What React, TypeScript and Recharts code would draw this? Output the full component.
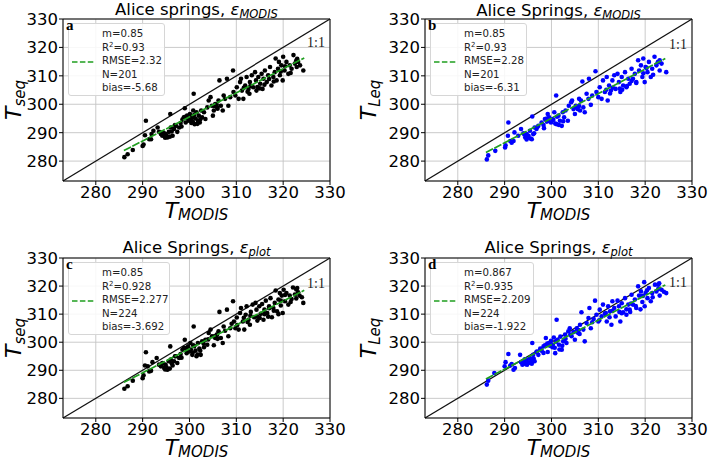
import React from "react";
import { ScatterChart, Scatter, XAxis, YAxis, CartesianGrid, ReferenceLine } from "recharts";

const SANS = "'DejaVu Sans', sans-serif";
const SERIF = "'Liberation Serif', 'DejaVu Serif', serif";

const TICKS = [280, 290, 300, 310, 320, 330];
const DOMAIN: [number, number] = [273, 330];
const FIT_COLOR = "#1f9e1f";

// (T_MODIS, T_seq) — panel a
const pointsA: [number, number][] = [
  [286.1, 281.4], [286.8, 282.4], [287.9, 283.9], [290.0, 285.3], [290.2, 285.8], [290.7, 294.2], [290.5, 289.1],
  [291.4, 287.7], [291.9, 289.5], [291.8, 287.7], [292.3, 290.7], [293.2, 291.8], [293.5, 290.3], [293.9, 289.5],
  [294.2, 288.9], [294.6, 289.8], [294.9, 289.5], [295.3, 288.3], [295.6, 290.3], [295.9, 296.6], [296.0, 291.8],
  [296.4, 288.9], [296.7, 291.3], [297.1, 292.4], [297.4, 290.3], [297.8, 291.8], [298.1, 293.4], [298.5, 294.6],
  [298.8, 295.4], [299.0, 298.6], [299.2, 293.6], [299.5, 296.0], [299.9, 294.2], [300.1, 296.6], [300.4, 293.4],
  [300.6, 295.4], [300.8, 297.8], [300.9, 303.7], [301.1, 293.0], [301.3, 295.0], [301.5, 297.2], [301.8, 294.2],
  [302.0, 296.0], [302.2, 293.6], [302.5, 297.8], [302.7, 295.4], [303.1, 297.2], [303.4, 294.8], [303.8, 298.9],
  [304.1, 301.3], [304.5, 302.5], [304.8, 299.5], [305.0, 296.0], [305.2, 297.8], [305.5, 300.1], [305.9, 298.9],
  [306.2, 301.3], [306.4, 308.4], [306.7, 299.5], [307.1, 297.8], [307.3, 303.1], [307.6, 301.9], [308.0, 309.0],
  [308.3, 299.5], [308.7, 302.5], [309.3, 311.9], [309.4, 304.3], [309.8, 303.1], [310.1, 306.0], [310.5, 301.9],
  [310.8, 307.8], [311.0, 309.0], [311.2, 304.8], [311.5, 301.9], [311.9, 306.6], [312.2, 309.6], [312.6, 305.4],
  [312.8, 303.7], [312.9, 307.8], [313.3, 310.2], [313.6, 306.0], [314.0, 311.3], [314.2, 308.4], [314.3, 304.8],
  [314.7, 309.6], [315.1, 307.2], [315.4, 310.7], [315.6, 305.4], [315.8, 309.0], [316.1, 311.9], [316.5, 307.8],
  [316.8, 310.2], [317.2, 313.1], [317.5, 306.6], [317.9, 309.6], [318.2, 311.3], [318.4, 316.1], [318.6, 308.4],
  [318.9, 312.5], [319.1, 314.9], [319.3, 310.2], [319.6, 313.7], [319.9, 308.4], [320.0, 316.7], [320.3, 311.9],
  [320.7, 314.9], [321.1, 310.7], [321.4, 313.7], [321.8, 312.5], [322.2, 317.3], [322.5, 314.3], [322.9, 313.1],
  [323.2, 314.9], [323.6, 313.7], [324.3, 311.9], [294.3, 290.1], [295.1, 289.0], [295.8, 288.6], [294.8, 288.2],
  [296.2, 290.4], [299.6, 294.9], [300.3, 295.1], [301.0, 296.2], [301.7, 293.1], [302.3, 294.6], [300.7, 294.0],
  [299.1, 295.6], [305.3, 299.4], [305.8, 299.9], [306.0, 298.4], [313.0, 306.4], [314.5, 306.1], [315.0, 305.6],
  [316.0, 306.9], [317.0, 308.9], [318.0, 308.0], [319.5, 311.5], [320.4, 313.4], [321.6, 311.0], [322.8, 315.4],
  [323.0, 316.0], [311.6, 305.8], [312.4, 304.4], [296.9, 292.7], [298.3, 292.2],
];

// (T_MODIS, T_Leq) — panel b
const pointsB: [number, number][] = [
  [286.2, 280.6], [286.5, 282.0], [288.0, 283.6], [290.1, 284.8], [290.2, 285.6], [290.8, 293.6], [290.7, 288.9],
  [291.2, 287.1], [291.5, 286.5], [291.9, 287.1], [292.1, 290.1], [292.9, 288.9], [293.5, 291.3], [294.0, 289.8],
  [294.4, 288.3], [294.7, 289.5], [295.1, 288.9], [295.4, 290.7], [295.8, 287.7], [295.9, 295.7], [296.1, 289.5],
  [296.4, 291.8], [296.8, 291.3], [297.2, 292.4], [297.9, 293.6], [298.3, 292.7], [298.6, 294.8], [299.0, 293.9],
  [299.2, 296.6], [299.5, 295.4], [299.9, 293.6], [300.2, 294.8], [300.6, 297.2], [301.0, 303.1], [301.1, 293.0],
  [301.5, 296.0], [301.8, 294.2], [302.2, 292.4], [302.4, 297.2], [302.7, 295.4], [303.0, 297.8], [303.5, 294.2],
  [303.7, 299.5], [304.2, 300.7], [304.4, 301.3], [304.7, 298.3], [305.0, 296.6], [305.2, 299.5], [305.6, 298.3],
  [305.9, 301.9], [306.3, 301.3], [306.6, 308.0], [306.8, 298.9], [307.1, 297.2], [307.5, 303.7], [307.9, 301.9],
  [308.0, 309.0], [308.4, 299.8], [308.7, 303.1], [309.4, 311.6], [309.6, 304.3], [310.0, 302.5], [310.3, 306.0],
  [310.7, 301.9], [311.0, 308.4], [311.4, 304.3], [311.8, 309.6], [312.0, 301.3], [312.3, 306.6], [312.7, 304.8],
  [313.0, 308.4], [313.4, 310.2], [313.7, 305.4], [314.1, 310.7], [314.4, 307.8], [314.7, 304.3], [315.0, 309.6],
  [315.3, 306.6], [315.7, 311.3], [316.0, 306.0], [316.4, 309.0], [316.7, 307.2], [317.1, 312.5], [317.4, 309.0],
  [317.8, 310.7], [318.1, 307.8], [318.5, 315.5], [318.7, 311.9], [319.1, 313.7], [319.4, 309.6], [319.6, 316.1],
  [319.9, 307.8], [320.1, 313.1], [320.5, 311.3], [320.8, 314.9], [321.2, 309.6], [321.5, 312.5], [322.0, 316.7],
  [322.4, 313.7], [322.8, 314.9], [323.1, 311.9], [323.5, 314.3], [324.5, 311.3], [294.2, 289.4], [295.0, 288.3],
  [295.6, 287.9], [294.7, 287.6], [296.3, 289.8], [299.4, 294.1], [300.4, 294.5], [301.2, 295.6], [301.6, 292.7],
  [302.5, 294.0], [300.8, 293.2], [299.0, 295.0], [305.4, 298.8], [305.9, 299.4], [306.1, 297.8], [313.1, 305.8],
  [314.6, 305.5], [315.1, 305.1], [316.1, 306.4], [317.1, 308.2], [318.1, 307.5], [319.6, 310.9], [320.3, 312.8],
  [321.7, 310.4], [322.7, 314.8], [323.1, 315.5], [311.7, 305.1], [312.5, 303.8], [297.0, 292.0], [298.4, 291.6],
];

// (T_MODIS, T_seq) — panel c
const pointsC: [number, number][] = [
  [286.1, 283.4], [286.8, 284.3], [287.9, 286.3], [290.0, 287.2], [290.2, 288.2], [290.7, 296.4], [290.5, 291.7],
  [291.1, 291.4], [291.4, 289.6], [291.8, 289.8], [292.1, 292.9], [293.0, 294.4], [293.5, 292.0], [293.9, 291.4],
  [294.2, 292.6], [294.6, 290.8], [294.9, 292.0], [295.3, 290.2], [295.6, 293.2], [295.9, 298.5], [296.0, 293.8],
  [296.4, 291.7], [296.7, 293.2], [297.1, 295.0], [297.4, 292.6], [297.8, 294.4], [298.1, 295.8], [298.5, 297.3],
  [298.8, 297.9], [299.0, 300.9], [299.4, 296.1], [299.7, 298.5], [300.0, 296.7], [300.2, 299.7], [300.6, 295.5],
  [300.8, 298.9], [300.9, 305.6], [301.3, 297.0], [301.5, 295.0], [301.8, 299.7], [302.1, 297.7], [302.4, 295.5],
  [302.7, 300.3], [303.1, 298.2], [303.4, 300.9], [303.8, 299.1], [304.1, 303.3], [304.5, 304.5], [304.8, 302.1],
  [305.2, 298.9], [305.5, 301.5], [305.9, 302.7], [306.2, 303.9], [306.4, 310.8], [306.7, 301.5], [307.1, 299.7],
  [307.3, 305.6], [307.6, 304.1], [308.0, 311.6], [308.3, 302.1], [308.7, 305.0], [309.3, 314.6], [309.5, 307.4],
  [309.8, 305.0], [310.1, 308.8], [310.5, 304.5], [310.8, 310.4], [311.0, 312.2], [311.4, 307.4], [311.7, 304.5],
  [312.0, 309.8], [312.2, 312.8], [312.6, 308.0], [312.9, 306.2], [313.1, 310.8], [313.5, 313.4], [313.8, 308.9],
  [314.1, 314.0], [314.3, 311.6], [314.5, 307.7], [314.9, 312.8], [315.2, 310.1], [315.5, 313.6], [315.8, 308.0],
  [316.0, 311.6], [316.3, 314.8], [316.6, 310.4], [317.0, 312.8], [317.3, 315.7], [317.6, 308.9], [317.9, 312.2],
  [318.2, 314.0], [318.4, 318.4], [318.7, 311.0], [319.0, 315.2], [319.3, 317.5], [319.5, 313.1], [319.7, 316.6],
  [319.9, 310.4], [320.1, 318.7], [320.4, 314.6], [320.7, 317.5], [321.1, 313.4], [321.4, 316.6], [321.8, 315.4],
  [322.1, 319.5], [322.5, 317.0], [322.8, 315.6], [323.2, 317.8], [323.5, 316.6], [324.3, 314.0], [294.3, 292.3],
  [295.1, 291.1], [295.8, 290.6], [294.8, 290.3], [296.2, 292.5], [299.6, 297.1], [300.3, 297.4], [301.0, 298.6],
  [301.7, 295.6], [302.3, 297.0], [300.7, 296.3], [299.1, 297.9], [305.3, 302.1], [305.8, 302.6], [306.0, 301.2],
  [313.0, 309.4], [314.5, 309.1], [315.0, 308.6], [316.0, 310.0], [317.0, 312.1], [318.0, 311.2], [319.5, 314.8],
  [320.4, 316.8], [321.6, 314.3], [322.8, 318.8], [323.0, 319.3], [311.6, 308.7], [312.4, 307.2], [296.9, 295.0],
  [298.3, 294.5], [303.0, 299.5], [304.0, 301.0], [309.0, 306.6], [310.2, 306.1], [316.8, 309.1], [319.0, 310.0],
  [324.0, 316.0],
];

// (T_MODIS, T_Leq) — panel d
const pointsD: [number, number][] = [
  [286.2, 284.9], [286.5, 286.3], [287.8, 289.0], [290.0, 291.4], [290.2, 292.9], [290.8, 295.8], [291.2, 291.7],
  [291.5, 292.2], [291.9, 290.2], [292.2, 290.8], [293.3, 295.5], [293.5, 292.9], [293.8, 292.0], [294.2, 293.2],
  [294.5, 292.2], [294.7, 293.8], [295.1, 292.6], [295.4, 294.4], [295.7, 293.4], [295.9, 299.7], [296.1, 295.5],
  [296.4, 293.2], [296.8, 296.5], [297.2, 295.5], [297.6, 297.7], [297.9, 297.0], [298.3, 298.5], [298.6, 298.9],
  [298.8, 301.5], [299.2, 296.5], [299.5, 299.7], [299.9, 300.5], [300.2, 298.2], [300.5, 301.7], [300.8, 296.1],
  [301.1, 308.0], [301.3, 300.9], [301.6, 299.1], [301.9, 302.0], [302.2, 297.3], [302.5, 300.3], [302.9, 302.7],
  [303.2, 299.7], [303.6, 303.9], [303.9, 305.0], [304.3, 302.1], [304.7, 303.6], [305.0, 300.9], [305.4, 305.0],
  [305.7, 303.3], [306.1, 306.2], [306.4, 310.7], [306.8, 304.5], [307.1, 300.3], [307.5, 306.8], [307.9, 308.6],
  [308.1, 312.2], [308.4, 305.0], [308.7, 307.1], [309.3, 314.8], [309.6, 309.8], [310.0, 307.4], [310.3, 311.6],
  [310.7, 309.2], [311.0, 313.4], [311.4, 310.1], [311.8, 307.4], [312.1, 312.8], [312.5, 311.0], [312.8, 306.2],
  [313.0, 314.6], [313.4, 312.2], [313.7, 309.2], [314.1, 314.8], [314.4, 312.8], [314.7, 307.4], [315.0, 313.9],
  [315.3, 310.7], [315.7, 315.7], [316.0, 309.8], [316.4, 313.4], [316.7, 311.6], [317.1, 316.9], [317.4, 313.4],
  [317.8, 315.2], [318.1, 312.2], [318.5, 319.9], [318.7, 316.6], [319.1, 318.1], [319.4, 314.3], [319.8, 321.4],
  [319.9, 312.8], [320.1, 317.5], [320.5, 315.7], [320.8, 319.3], [321.2, 314.6], [321.5, 317.5], [322.1, 320.5],
  [322.4, 318.1], [322.8, 319.0], [323.1, 316.6], [323.5, 318.7], [324.5, 317.5], [294.3, 293.9], [295.1, 292.8],
  [295.8, 292.3], [294.8, 292.0], [296.2, 294.2], [299.6, 298.8], [300.3, 299.1], [301.0, 300.2], [301.7, 297.4],
  [302.3, 298.7], [300.7, 298.0], [299.1, 299.5], [305.3, 303.8], [305.8, 304.3], [306.0, 302.9], [313.0, 311.2],
  [314.5, 310.8], [315.0, 310.3], [316.0, 311.7], [317.0, 313.8], [318.0, 312.9], [319.5, 316.5], [320.4, 318.5],
  [321.6, 316.0], [322.8, 320.5], [323.0, 321.0], [311.6, 310.4], [312.4, 308.9], [296.9, 296.7], [298.3, 296.2],
  [303.0, 301.2], [304.0, 302.7], [309.0, 308.3], [310.2, 307.8], [316.8, 310.8], [319.0, 311.7], [324.0, 318.0],
];

// regression line end points [x0, y0, x1, y1]
const fitA = [286, 283.7, 324.5, 316.3];
const fitB = [286, 283.0, 324.3, 316.1];
const fitC = [286, 285.7, 324.5, 318.5];
const fitD = [286, 286.9, 324.3, 320.4];

const statsA = ["m=0.85", "0.93", "RMSE=2.32", "N=201", "bias=-5.68"];
const statsB = ["m=0.85", "0.93", "RMSE=2.28", "N=201", "bias=-6.31"];
const statsC = ["m=0.85", "0.928", "RMSE=2.277", "N=224", "bias=-3.692"];
const statsD = ["m=0.867", "0.935", "RMSE=2.209", "N=224", "bias=-1.922"];

function Panel(p: any) {
  const W = p.width;
  const H = p.height;
  const data = p.points.map(([x, y]: [number, number]) => ({ x, y }));
  const plotW = p.plotRight - p.plotLeft;
  const plotMidY = (p.plotTop + p.plotBottom) / 2;
  const [fx0, fy0, fx1, fy1] = p.fit;
  const fitData = [{ x: fx0, y: fy0 }, { x: fx1, y: fy1 }];
  const tick = { fontSize: 16.5, fill: "#000", fontFamily: SANS };
  const sub = { fontStyle: "italic", fontSize: 15, lineHeight: "15px", position: "relative" as const, top: 2 };
  return (
    <div style={{ position: "absolute", left: p.left, top: p.top, width: W, height: H }}>
      <ScatterChart width={W} height={H} margin={{ top: p.plotTop, right: W - p.plotRight, bottom: 0, left: 0 }}>
        <CartesianGrid stroke="#c4c4c4" strokeWidth={0.9} />
        <XAxis
          type="number"
          dataKey="x"
          domain={DOMAIN}
          ticks={TICKS}
          interval={0}
          allowDataOverflow
          height={H - p.plotBottom}
          tick={tick}
          tickSize={4}
          tickMargin={1}
          stroke="#000"
        />
        <YAxis
          type="number"
          dataKey="y"
          domain={DOMAIN}
          ticks={TICKS}
          interval={0}
          allowDataOverflow
          width={p.plotLeft}
          tick={tick}
          tickSize={4}
          tickMargin={1}
          stroke="#000"
        />
        <ReferenceLine x={330} stroke="#000" strokeWidth={1} />
        <ReferenceLine y={330} stroke="#000" strokeWidth={1} />
        <ReferenceLine segment={[{ x: 273, y: 273 }, { x: 330, y: 330 }]} stroke="#111" strokeWidth={1.3} />
        <Scatter
          data={data}
          isAnimationActive={false}
          shape={(s: any) => <circle cx={s.cx} cy={s.cy} r={2.3} fill={p.color} />}
        />
      </ScatterChart>

      {/* fit line on top of the points: same scales, axes hidden */}
      <div style={{ position: "absolute", left: 0, top: 0, zIndex: 2, pointerEvents: "none" }}>
        <ScatterChart
          width={W}
          height={H}
          margin={{ top: p.plotTop, right: W - p.plotRight, bottom: H - p.plotBottom, left: p.plotLeft }}
        >
          <XAxis type="number" dataKey="x" domain={DOMAIN} allowDataOverflow hide />
          <YAxis type="number" dataKey="y" domain={DOMAIN} allowDataOverflow hide />
          <Scatter
            data={fitData}
            isAnimationActive={false}
            line={{ stroke: FIT_COLOR, strokeWidth: 1.7, strokeDasharray: "8 1.5" }}
            shape={() => <g />}
          />
        </ScatterChart>
      </div>

      {/* title */}
      <div
        style={{
          position: "absolute", left: p.plotLeft, width: plotW, top: p.titleY - 10, textAlign: "center",
          fontFamily: SANS, fontSize: 16.5, lineHeight: "20px", whiteSpace: "nowrap",
        }}
      >
        {p.title}
        <span style={{ fontStyle: "italic" }}>ε</span>
        <span style={{ fontStyle: "italic", fontSize: 11.5, lineHeight: "12px", position: "relative", top: 3 }}>
          {p.eps}
        </span>
      </div>

      {/* y label */}
      <div
        style={{
          position: "absolute", left: p.yLabelX, top: plotMidY, transform: "translate(-50%, -50%) rotate(-90deg)",
          fontFamily: SANS, fontSize: 22, lineHeight: "22px", whiteSpace: "nowrap",
        }}
      >
        <span style={{ fontStyle: "italic" }}>T</span>
        <span style={{ ...sub, top: 4 }}>{p.ySub}</span>
      </div>

      {/* x label */}
      <div
        style={{
          position: "absolute", left: p.plotLeft, width: plotW, top: p.plotBottom + 20, textAlign: "center",
          fontFamily: SANS, fontSize: 22, lineHeight: "19px", whiteSpace: "nowrap",
        }}
      >
        <span style={{ fontStyle: "italic" }}>T</span>
        <span style={sub}>MODIS</span>
      </div>

      {/* 1:1 */}
      <div
        style={{
          position: "absolute", left: p.plotRight - 23, top: p.oneY - 8,
          fontFamily: SERIF, fontSize: 14, lineHeight: "16px", color: "#222",
        }}
      >
        1:1
      </div>

      {/* legend */}
      <div
        style={{
          position: "absolute", left: p.plotLeft + 5, top: p.plotTop + 4, width: p.legendW, height: 73, zIndex: 3,
          boxSizing: "border-box", border: "1px solid #d6d6d6", borderRadius: 3, background: "rgba(255,255,255,0.85)",
          fontFamily: SANS, fontSize: 10.2, color: "#222",
        }}
      >
        <svg width={22} height={4} style={{ position: "absolute", left: 3, top: 36 }}>
          <line x1={0} y1={2} x2={22} y2={2} stroke={FIT_COLOR} strokeWidth={1.5} strokeDasharray="5.5 2.4" />
        </svg>
        <div style={{ position: "absolute", left: 33, top: 3, lineHeight: "13.5px", whiteSpace: "nowrap" }}>
          <div>{p.stats[0]}</div>
          <div>
            R<sup style={{ fontSize: 7, verticalAlign: "top", position: "relative", top: -2 }}>2</sup>={p.stats[1]}
          </div>
          <div>{p.stats[2]}</div>
          <div>{p.stats[3]}</div>
          <div>{p.stats[4]}</div>
        </div>
      </div>

      {/* panel letter */}
      <div
        style={{
          position: "absolute", left: p.plotLeft + 3, top: p.plotTop - 1, zIndex: 4,
          fontFamily: SERIF, fontWeight: "bold", fontSize: 15, lineHeight: "15px",
        }}
      >
        {p.letter}
      </div>
    </div>
  );
}

export default function App() {
  return (
    <div style={{ position: "absolute", left: 0, top: 0, width: 708, height: 461, background: "#fff" }}>
      <Panel
        left={0} top={0} width={354} height={230}
        plotLeft={63} plotRight={330} plotTop={19} plotBottom={181}
        title="Alice springs, " eps="MODIS" ySub="seq" yLabelX={14}
        points={pointsA} color="#000" fit={fitA} stats={statsA} letter="a"
        titleY={10} oneY={43} legendW={97}
      />
      <Panel
        left={354} top={0} width={354} height={230}
        plotLeft={71} plotRight={338} plotTop={19} plotBottom={181}
        title="Alice Springs, " eps="MODIS" ySub="Leq" yLabelX={15}
        points={pointsB} color="#0000ff" fit={fitB} stats={statsB} letter="b"
        titleY={11} oneY={45} legendW={97}
      />
      <Panel
        left={0} top={230} width={354} height={231}
        plotLeft={63} plotRight={330} plotTop={28} plotBottom={188}
        title="Alice Springs, " eps="plot" ySub="seq" yLabelX={14}
        points={pointsC} color="#000" fit={fitC} stats={statsC} letter="c"
        titleY={18} oneY={54} legendW={102}
      />
      <Panel
        left={354} top={230} width={354} height={231}
        plotLeft={71} plotRight={338} plotTop={28} plotBottom={188}
        title="Alice Springs, " eps="plot" ySub="Leq" yLabelX={15}
        points={pointsD} color="#0000ff" fit={fitD} stats={statsD} letter="d"
        titleY={18} oneY={53} legendW={104}
      />
    </div>
  );
}
